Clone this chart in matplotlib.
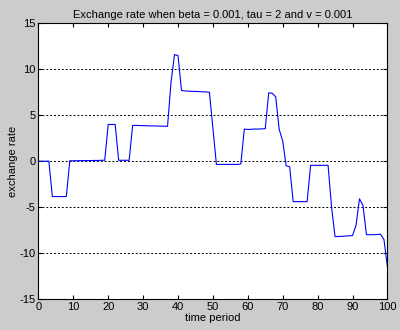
import matplotlib
matplotlib.use('Agg')
import matplotlib.pyplot as plt
import numpy as np

plt.rcParams['font.family'] = ['Liberation Sans', 'DejaVu Sans']
plt.rcParams['axes.unicode_minus'] = False

# time periods 0..100 and exchange rate
t = np.arange(0, 101)
rate = [
    0, 0, 0, 0, -3.85, -3.85, -3.85, -3.85, -3.85, 0.05,          # 0-9
    0.05, 0.05, 0.06, 0.06, 0.07, 0.07, 0.08, 0.08, 0.1, 0.1,      # 10-19
    4.0, 4.0, 4.0, 0.1, 0.1, 0.1, 0.1, 3.9, 3.9, 3.88,             # 20-29
    3.87, 3.86, 3.85, 3.84, 3.83, 3.82, 3.81, 3.8, 8.6, 11.6,      # 30-39
    11.5, 7.7, 7.65, 7.62, 7.6, 7.6, 7.58, 7.55, 7.55, 7.5,        # 40-49
    3.6, -0.35, -0.35, -0.35, -0.35, -0.35, -0.35, -0.35, -0.3, 3.5,  # 50-59
    3.45, 3.48, 3.5, 3.5, 3.52, 3.55, 7.45, 7.4, 7.0, 3.45,        # 60-69
    2.2, -0.5, -0.6, -4.4, -4.4, -4.4, -4.4, -4.4, -0.45, -0.45,   # 70-79
    -0.45, -0.45, -0.45, -0.45, -5.0, -8.2, -8.2, -8.18, -8.15, -8.12,  # 80-89
    -8.1, -7.0, -4.1, -4.8, -8.0, -8.0, -8.0, -7.98, -7.95, -8.5,  # 90-99
    -11.5,                                                         # 100
]

fig = plt.figure(figsize=(4.0, 3.3), dpi=100, facecolor='#cccccc')
ax = fig.add_axes([0.096, 0.094, 0.8725, 0.835])
ax.set_facecolor('white')

ax.plot(t, rate, color='#0000ff', linewidth=0.8)

ax.set_xlim(0, 100)
ax.set_ylim(-15, 15)
ax.set_xticks(np.arange(0, 101, 10))
ax.set_yticks(np.arange(-15, 16, 5))
ax.yaxis.grid(True, linestyle=(0, (2, 2)), color='black', linewidth=0.7)
ax.tick_params(direction='in', top=True, right=True, labelsize=8, length=3, pad=2)
for s in ax.spines.values():
    s.set_linewidth(0.8)

ax.set_title('Exchange rate when beta = 0.001, tau = 2 and v = 0.001', fontsize=8, pad=4)
ax.set_xlabel('time period', fontsize=8, labelpad=1)
ax.set_ylabel('exchange rate', fontsize=8, labelpad=1)

fig.savefig('out.png', dpi=100, facecolor=fig.get_facecolor())
